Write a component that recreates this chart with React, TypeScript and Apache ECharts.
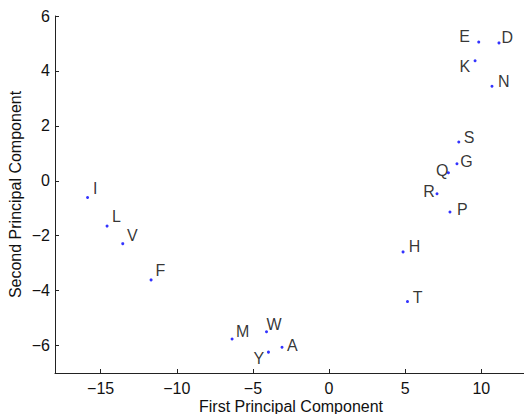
import React, { useEffect, useRef } from "react";
import * as echarts from "echarts";

const labels = ["I", "L", "V", "F", "M", "W", "Y", "A", "H", "T", "P", "R", "Q", "G", "S", "N", "K", "E", "D"];
const pc1 = [-15.86, -14.58, -13.55, -11.69, -6.37, -4.11, -3.98, -3.09, 4.86, 5.15, 7.94, 7.09, 7.84, 8.40, 8.52, 10.70, 9.59, 9.83, 11.16];
const pc2 = [-0.61, -1.65, -2.29, -3.61, -5.76, -5.50, -6.24, -6.06, -2.59, -4.40, -1.14, -0.47, 0.29, 0.62, 1.41, 3.44, 4.37, 5.05, 5.02];
const xTicks = [-15, -10, -5, 0, 5, 10];
const yTicks = [-6, -4, -2, 0, 2, 4, 6];

// label placement (pixels from the dot): dx>0 -> text to the right, dx<0 -> text to the left
const labelDx = [6.3, 6, 5.3, 5.4, 5, 1, -5.4, 6, 6.7, 6.3, 8, -3.3, -1, 4.4, 6, 7, -6, -9.7, 3.4];
const labelDy = [-9.4, -9.6, -9, -9.6, -8, -8.3, 5.6, -2, -6.3, -4.3, -3, -3, -3, -2.3, -5, -5.8, 5.3, -6, -6.3];

const FONT = "'Liberation Sans', Arial, Helvetica, sans-serif";
const SYM = 3;

const fmt = (v: number) => String(v).replace("-", "\u2212");

export default function App() {
  const ref = useRef<HTMLDivElement>(null);
  useEffect(() => {
    if (!ref.current) return;
    const chart = echarts.init(ref.current, null, { renderer: "svg" });
    const data = labels.map((name, i) => {
      const right = labelDx[i] >= 0;
      return {
        value: [pc1[i], pc2[i]],
        name,
        label: {
          show: true,
          formatter: name,
          position: right ? "right" : "left",
          distance: 0,
          offset: [right ? labelDx[i] - SYM / 2 - 1 : labelDx[i] + SYM / 2 + 1, labelDy[i] + 0.5],
          color: "#000",
          fontSize: 16,
          fontFamily: FONT,
        },
      };
    });
    const axisCommon = {
      axisLine: { show: true, onZero: false, lineStyle: { color: "#222", width: 1 } },
      splitLine: { show: false },
    };
    chart.setOption({
      animation: false,
      backgroundColor: "#fff",
      grid: { left: 55, top: 16, width: 472, height: 357, containLabel: false, outerBoundsMode: "none" },
      xAxis: {
        type: "value",
        min: -18,
        max: 13,
        ...axisCommon,
        axisTick: { show: true, inside: true, length: 4, customValues: xTicks, lineStyle: { color: "#222" } },
        axisLabel: {
          customValues: xTicks,
          formatter: fmt,
          color: "#111",
          fontSize: 16,
          fontFamily: FONT,
          margin: 7,
        },
        name: "First Principal Component",
        nameLocation: "middle",
        nameGap: 25,
        nameMoveOverlap: false,
        nameTextStyle: { color: "#111", fontSize: 16, fontFamily: FONT },
      },
      yAxis: {
        type: "value",
        min: -7,
        max: 6,
        ...axisCommon,
        axisTick: { show: true, inside: true, length: 4, customValues: yTicks, lineStyle: { color: "#222" } },
        axisLabel: {
          customValues: yTicks,
          formatter: fmt,
          color: "#111",
          fontSize: 16,
          fontFamily: FONT,
          margin: 5,
        },
        name: "Second Principal Component",
        nameLocation: "middle",
        nameGap: 32,
        nameMoveOverlap: false,
        nameTextStyle: { color: "#111", fontSize: 16, fontFamily: FONT },
      },
      series: [
        {
          type: "scatter",
          symbol: "circle",
          symbolSize: SYM,
          itemStyle: { color: "#0000ff" },
          data,
        },
      ],
    });
    return () => chart.dispose();
  }, []);
  return (
    <div
      ref={ref}
      style={{ position: "fixed", left: 0, top: 0, width: 524, height: 414 }}
    />
  );
}
